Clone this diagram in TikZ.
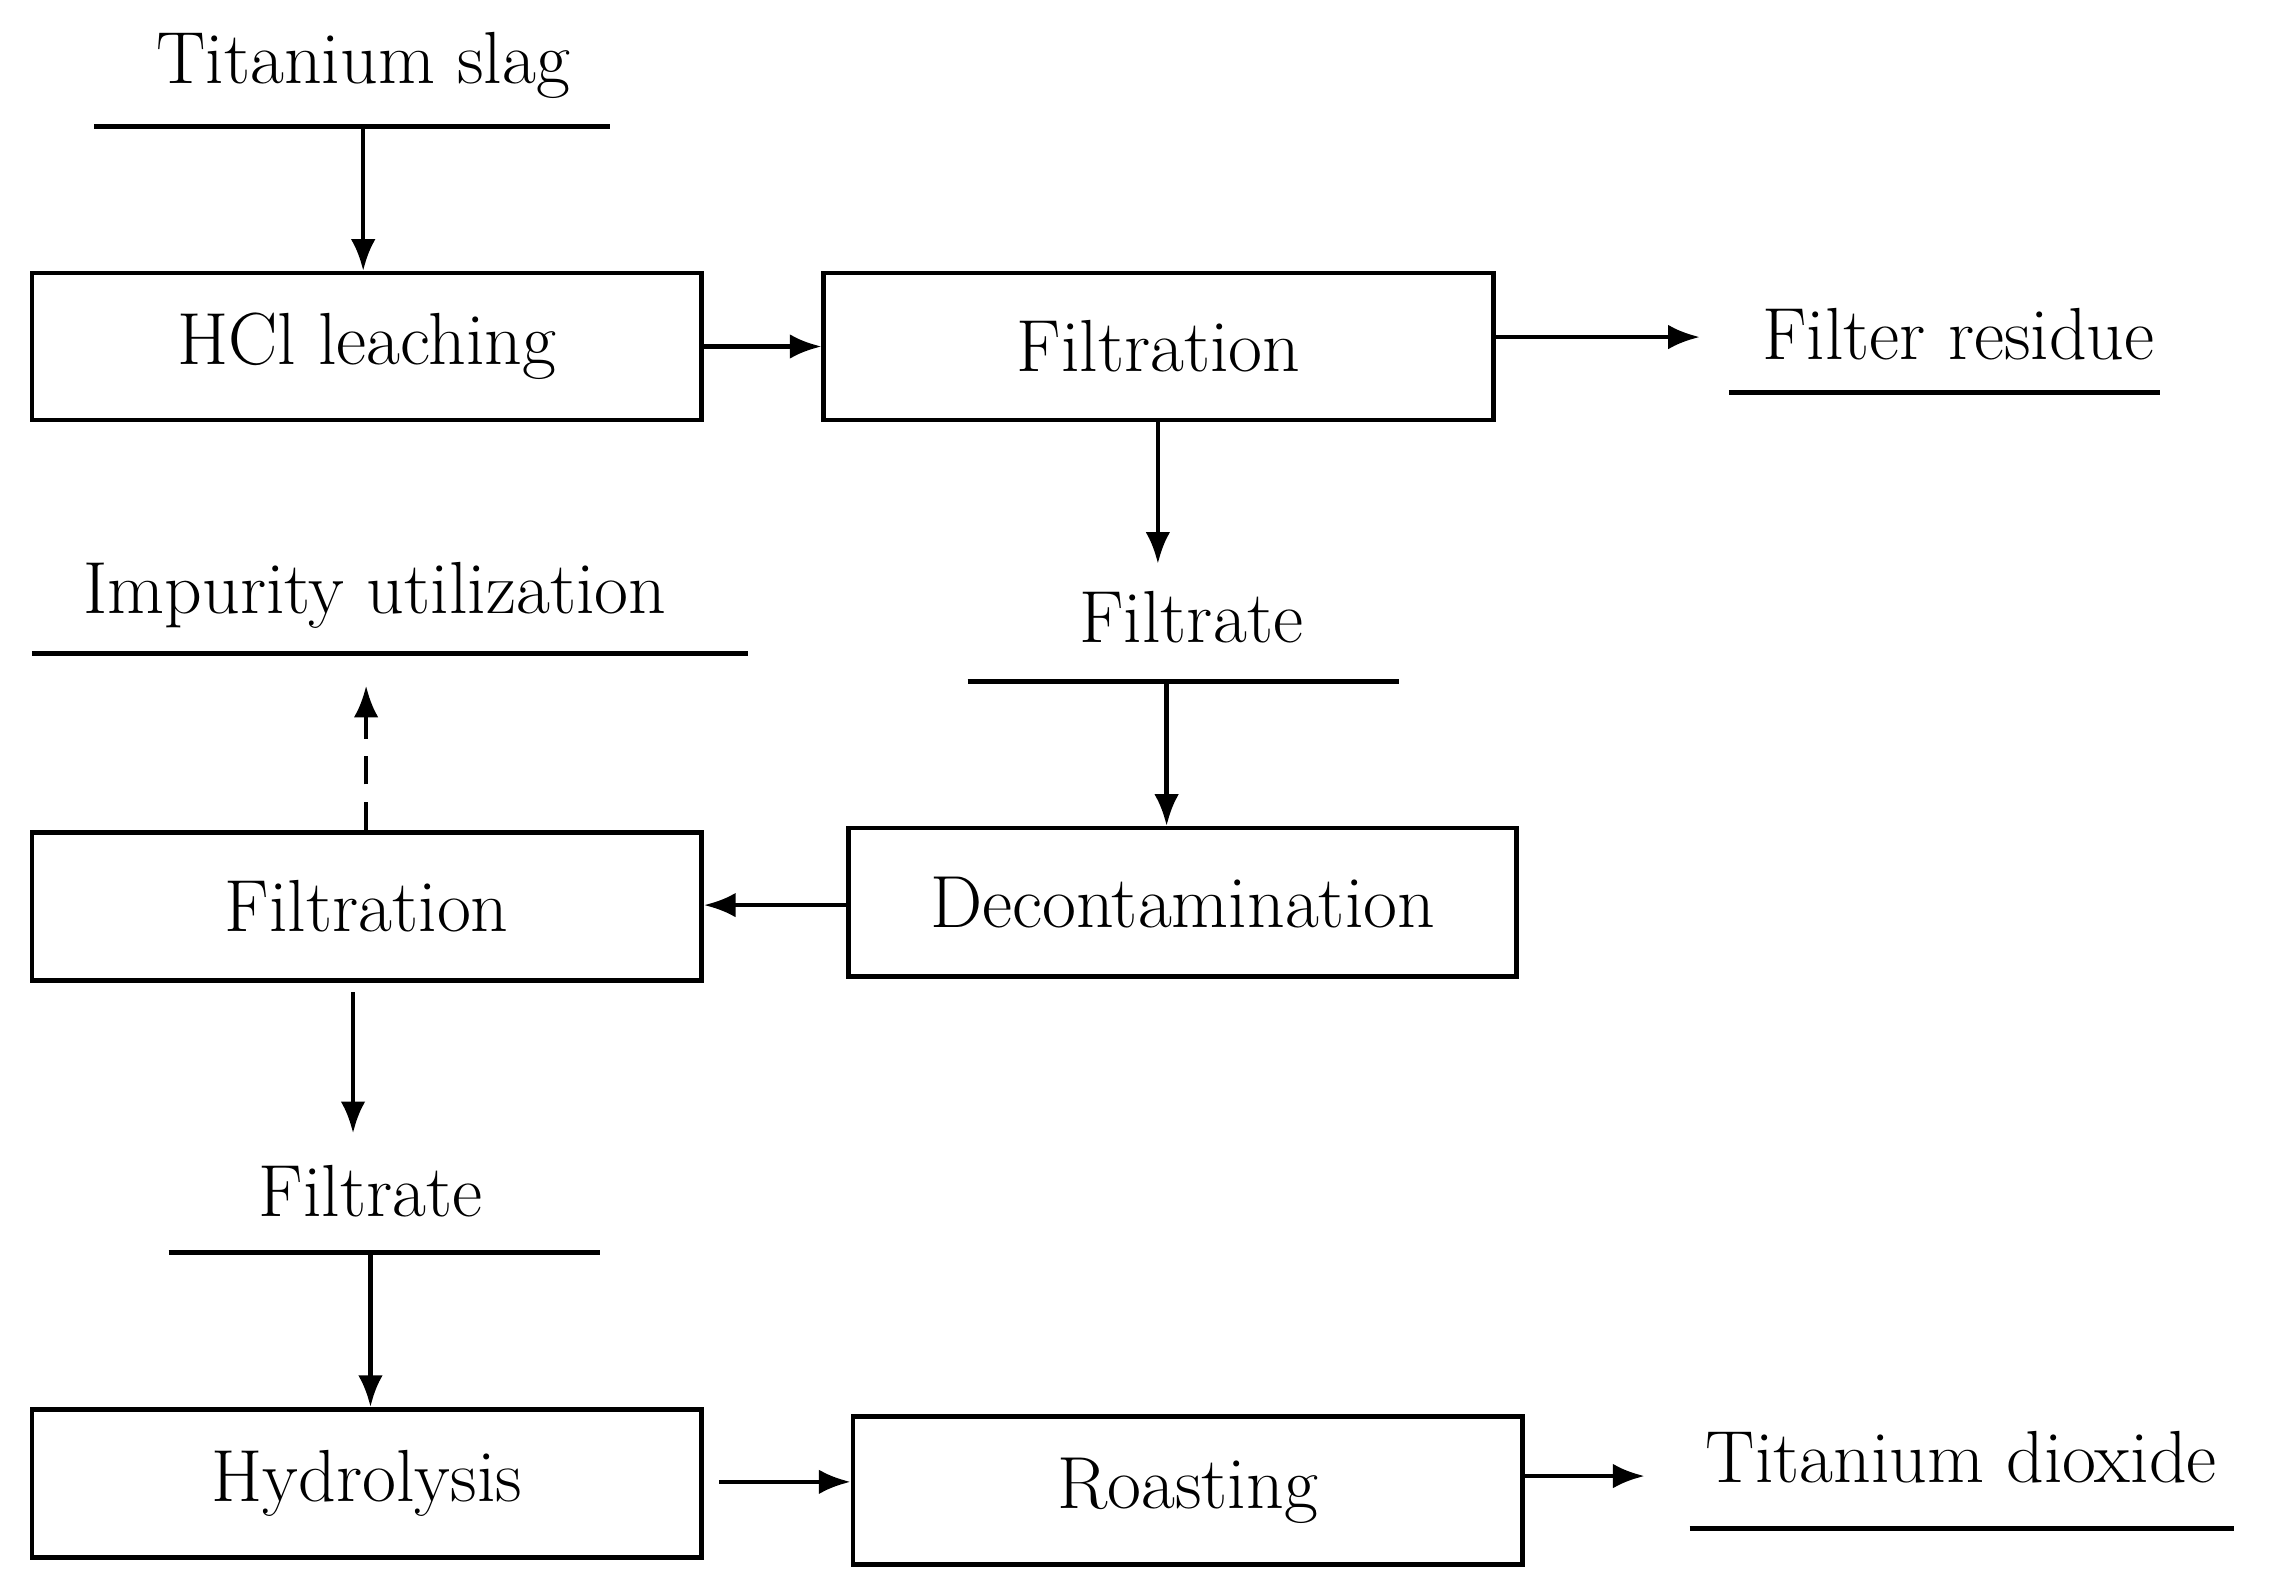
\documentclass[tikz,border=0pt]{standalone}
\usetikzlibrary{arrows.meta}
\def\myu{0.01453cm}
\begin{document}
\begin{tikzpicture}[x=0.01453cm,y=-0.01453cm,
  box/.style={draw,line width=1.3pt,inner sep=0pt,font=\fontsize{21}{25}\selectfont},
  lbl/.style={inner sep=0pt,font=\fontsize{21}{25}\selectfont},
  ul/.style={line width=1.3pt},
  arr/.style={line width=1.3pt,-{Latex[length=9pt,width=7pt]}}]
\useasboundingbox (0,0) rectangle (1568,1095);
% boxes
\node[box,minimum width=461*\myu,minimum height=101*\myu] (hcl) at (252.5,238.5) {};
\node[lbl] at (hcl) {HCl leaching};
\node[box,minimum width=461*\myu,minimum height=101*\myu] (f1) at (797.5,238.5) {};
\node[lbl] at (f1) {Filtration};
\node[box,minimum width=460*\myu,minimum height=102*\myu] (dec) at (814,621) {};
\node[lbl] at (dec) {Decontamination};
\node[box,minimum width=461*\myu,minimum height=102*\myu] (f2) at (252.5,624) {};
\node[lbl] at (f2) {Filtration};
\node[box,minimum width=461*\myu,minimum height=102*\myu] (hyd) at (252.5,1021) {};
\node[lbl] at (hyd) {Hydrolysis};
\node[box,minimum width=461*\myu,minimum height=102*\myu] (roa) at (817.5,1026) {};
\node[lbl] at (roa) {Roasting};
% labels
\node[lbl] (ts) at (250,45) {Titanium slag};
\draw[ul] (65,87) -- (420,87);
\coordinate (tsm) at (250,87);
\node[lbl] (fr) at (1348,230) {Filter residue};
\draw[ul] (1190,270) -- (1487,270);
\coordinate (frl) at (1170,232);
\node[lbl] (ft1) at (820,425) {Filtrate};
\draw[ul] (666,469) -- (963,469);
\coordinate (ft1t) at (797,388);
\coordinate (ft1b) at (803,469);
\node[lbl] (iu) at (258,410) {Impurity utilization};
\draw[ul] (22,450) -- (515,450);
\coordinate (iub) at (252,472);
\node[lbl] (ft2) at (255,820) {Filtrate};
\draw[ul] (116,862) -- (413,862);
\coordinate (ft2t) at (243,780);
\coordinate (ft2b) at (255,862);
\node[lbl] (td) at (1350,1003) {Titanium dioxide};
\draw[ul] (1163,1052) -- (1538,1052);
\coordinate (tdl) at (1132,1016);
% connectors
\draw[arr] (tsm) -- (hcl.north -| tsm);
\draw[arr] (hcl.east) -- (f1.west);
\draw[arr] (f1.east |- frl) -- (frl);
\draw[arr] (f1.south -| ft1t) -- (ft1t);
\draw[arr] (ft1b) -- (dec.north -| ft1b);
\draw[arr] (dec.west |- 0,623) -- (f2.east |- 0,623);
\draw[arr,dash pattern=on 8pt off 5pt] (f2.north -| iub) -- (iub);
\draw[arr] (243,683) -- (ft2t);
\draw[arr] (ft2b) -- (hyd.north -| ft2b);
\draw[arr] (495,1020) -- (roa.west |- 0,1020);
\draw[arr] (roa.east |- tdl) -- (tdl);
\end{tikzpicture}
\end{document}
